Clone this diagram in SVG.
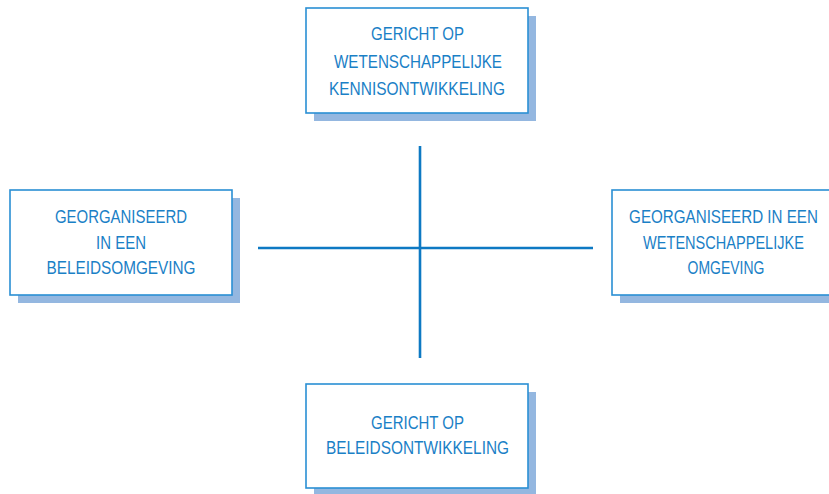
<svg xmlns="http://www.w3.org/2000/svg" width="829" height="494" viewBox="0 0 829 494">
<style>
.shadow{fill:#94b7e0;stroke:none}
.box{fill:#ffffff;stroke:#2a8fd4;stroke-width:1.6}
.t{font-family:"Liberation Sans",Arial,sans-serif;font-size:19px;fill:#1a80c6;text-anchor:middle}
.axis{stroke:#0d79c3;stroke-width:2.6;fill:none}
</style>
<rect width="829" height="494" fill="#ffffff"/>
<g id="connectors">
<line class="axis" x1="420" y1="146" x2="420" y2="358"/>
<line class="axis" x1="258" y1="248" x2="593" y2="248"/>
</g>
<g id="node-top">
<rect class="shadow" x="314" y="16" width="222" height="105"/>
<rect class="box" x="306" y="8" width="222" height="105"/>
<text class="t" x="417.5" y="40" textLength="93" lengthAdjust="spacingAndGlyphs">GERICHT OP</text>
<text class="t" x="418" y="67.5" textLength="168" lengthAdjust="spacingAndGlyphs">WETENSCHAPPELIJKE</text>
<text class="t" x="417" y="95" textLength="176" lengthAdjust="spacingAndGlyphs">KENNISONTWIKKELING</text>
</g>
<g id="node-left">
<rect class="shadow" x="18" y="198" width="222" height="105"/>
<rect class="box" x="10" y="190" width="222" height="105"/>
<text class="t" x="121" y="223" textLength="132" lengthAdjust="spacingAndGlyphs">GEORGANISEERD</text>
<text class="t" x="121" y="248.5" textLength="50" lengthAdjust="spacingAndGlyphs">IN EEN</text>
<text class="t" x="121" y="274" textLength="149" lengthAdjust="spacingAndGlyphs">BELEIDSOMGEVING</text>
</g>
<g id="node-right">
<rect class="shadow" x="620" y="198" width="222" height="105"/>
<rect class="box" x="612" y="190" width="222" height="105"/>
<text class="t" transform="translate(723.5,223) scale(0.8,1)" x="0" y="0" textLength="236" lengthAdjust="spacingAndGlyphs">GEORGANISEERD IN EEN</text>
<text class="t" transform="translate(723.5,248.5) scale(0.8,1)" x="0" y="0" textLength="201" lengthAdjust="spacingAndGlyphs">WETENSCHAPPELIJKE</text>
<text class="t" transform="translate(726,274) scale(0.8,1)" x="0" y="0" textLength="96" lengthAdjust="spacingAndGlyphs">OMGEVING</text>
</g>
<g id="node-bottom">
<rect class="shadow" x="314" y="392" width="222" height="104"/>
<rect class="box" x="306" y="384" width="222" height="104"/>
<text class="t" x="417.5" y="429" textLength="93" lengthAdjust="spacingAndGlyphs">GERICHT OP</text>
<text class="t" x="417.5" y="454" textLength="183" lengthAdjust="spacingAndGlyphs">BELEIDSONTWIKKELING</text>
</g>
</svg>
